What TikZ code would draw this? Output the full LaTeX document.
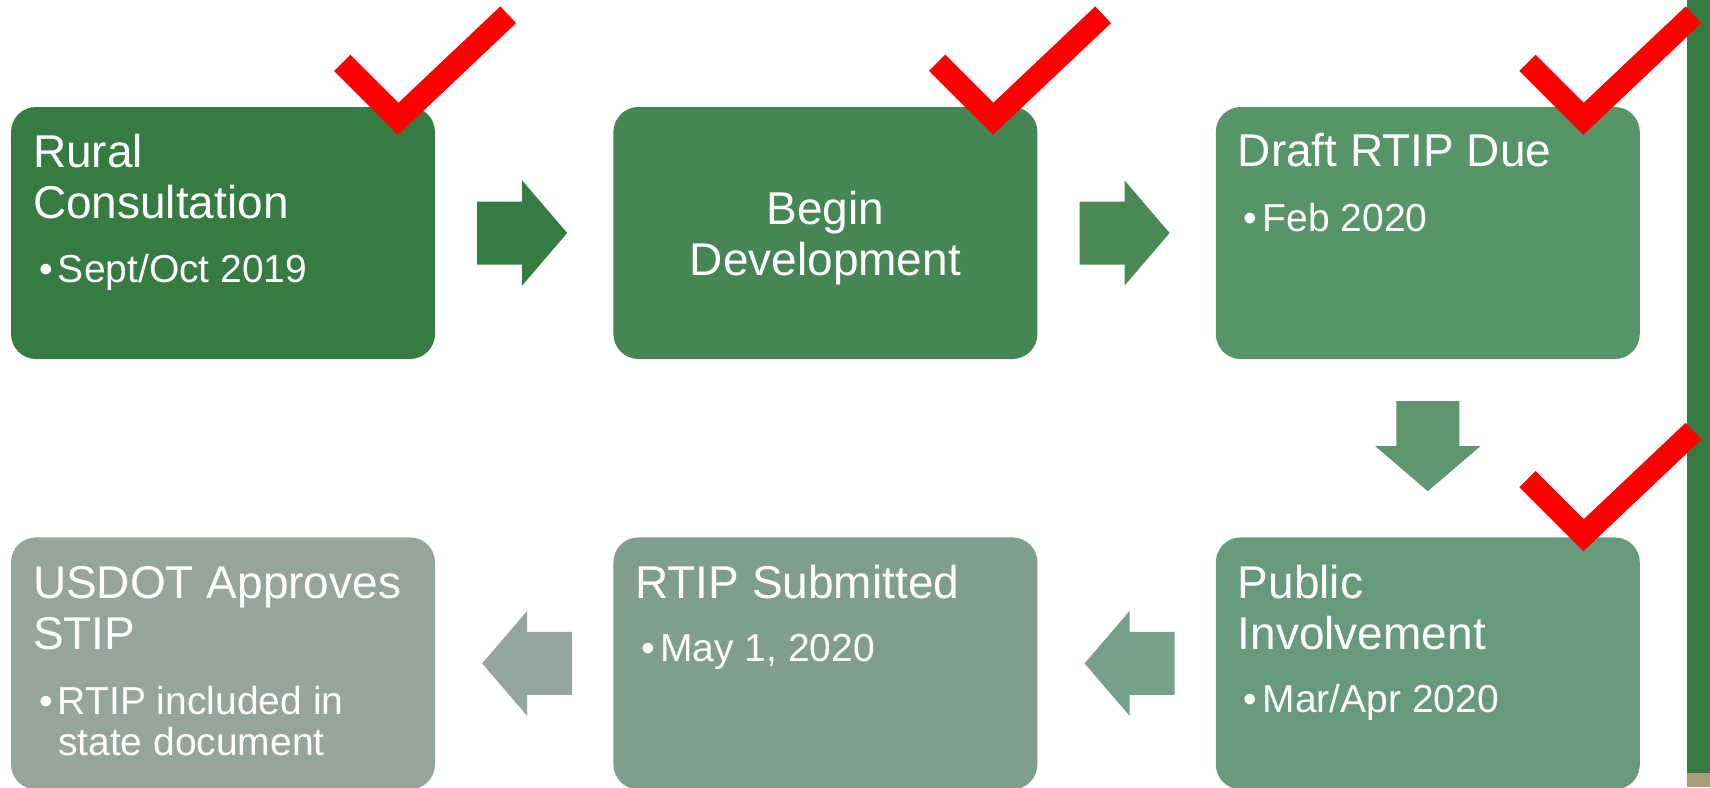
\documentclass[tikz,border=0pt]{standalone}
\usepackage{fontspec}
\setmainfont{Liberation Sans}
\usetikzlibrary{calc,positioning}

\definecolor{stepA}{HTML}{367B42}
\definecolor{stepB}{HTML}{468554}
\definecolor{stepC}{HTML}{579468}
\definecolor{stepD}{HTML}{67997B}
\definecolor{stepE}{HTML}{809E8D}
\definecolor{stepF}{HTML}{95A59C}
\definecolor{arrB}{HTML}{4A8856}
\definecolor{arrC}{HTML}{5E9670}
\definecolor{arrD}{HTML}{76A08A}
\definecolor{arrE}{HTML}{93A59C}
\definecolor{barTan}{HTML}{A89E78}

\tikzset{
	box/.style = {rounded corners = 25pt, minimum width = 424pt, minimum height = 252pt, inner sep = 0pt},
	head/.style = {text = white, font = \fontsize{46}{51}\selectfont, align = left, inner sep = 0pt, anchor = base west},
	item/.style = {text = white, font = \fontsize{39}{41}\selectfont, align = left, inner sep = 0pt, anchor = base west},
	tick/.style = {draw = red, line width = 23pt},
	blockarrow/.pic = {\path[pic actions] (-45,-31.5) -- (0,-31.5) -- (0,-52.5) -- (45,0) -- (0,52.5) -- (0,31.5) -- (-45,31.5) -- cycle;}
}
\newcommand{\bul}{\llap{\makebox[19pt][l]{•}}}

\begin{document}
\begin{tikzpicture}[x = 1pt, y = -1pt]%timeline
	\useasboundingbox (0,0) rectangle (1710,787);
	\fill[white] (0,0) rectangle (1710,787);
	\fill[stepA] (1687,0) rectangle (1710,773);
	\fill[barTan] (1687,773) rectangle (1710,787);

	\node[box, fill = stepA] (B1) at (223,233) {};
	\node[box, fill = stepB, right = 178pt of B1] (B2) {};
	\node[box, fill = stepC, right = 178pt of B2] (B3) {};
	\node[box, fill = stepD, below = 178pt of B3] (B4) {};
	\node[box, fill = stepE, left = 178pt of B4] (B5) {};
	\node[box, fill = stepF, left = 178pt of B5] (B6) {};

	% base of a two-line node is its last line
	\node[head] (T1) at ($(B1.north west)+(22,112)$) {Rural\\Consultation};
	\node[item] (I1) at ($(B1.north west)+(47,176)$) {\bul Sept/Oct 2019};
	\node[head, align = center, anchor = base] (T2) at ($(B2.center)+(0,42)$) {Begin\\Development};
	\node[head] (T3) at ($(B3.north west)+(22,60)$) {Draft RTIP Due};
	\node[item] (I3) at ($(B3.north west)+(47,125)$) {\bul Feb 2020};
	\node[head] (T4) at ($(B4.north west)+(22,112)$) {Public\\Involvement};
	\node[item] (I4) at ($(B4.north west)+(47,175)$) {\bul Mar/Apr 2020};
	\node[head] (T5) at ($(B5.north west)+(22,61)$) {RTIP Submitted};
	\node[item] (I5) at ($(B5.north west)+(47,124)$) {\bul May 1, 2020};
	\node[head] (T6) at ($(B6.north west)+(22,112)$) {USDOT Approves\\STIP};
	\node[item] (I6) at ($(B6.north west)+(47,218)$) {\bul RTIP included in\\state document};

	\pic[fill = stepA] at ($(B1.east)!0.5!(B2.west)+(-2,0)$) {blockarrow};
	\pic[fill = arrB] at ($(B2.east)!0.5!(B3.west)+(-2,0)$) {blockarrow};
	\pic[fill = arrC, rotate = -90] at ($(B3.south)!0.5!(B4.north)+(0,-2)$) {blockarrow};
	\pic[fill = arrD, rotate = 180] at ($(B4.west)!0.5!(B5.east)+(3,0)$) {blockarrow};
	\pic[fill = arrE, rotate = 180] at ($(B5.west)!0.5!(B6.east)+(3,0)$) {blockarrow};

	\draw[tick] ($(B1.north east)+(-93,-44)$) -- ++(56,56) -- ++(110,-104);
	\draw[tick] ($(B2.north east)+(-100.5,-44)$) -- ++(56,56) -- ++(110,-104);
	\draw[tick] ($(B3.north east)+(-112.5,-44)$) -- ++(56,56) -- ++(110,-104);
	\draw[tick] ($(B4.north east)+(-112.5,-58)$) -- ++(56,56) -- ++(110,-104);
\end{tikzpicture}
\end{document}
